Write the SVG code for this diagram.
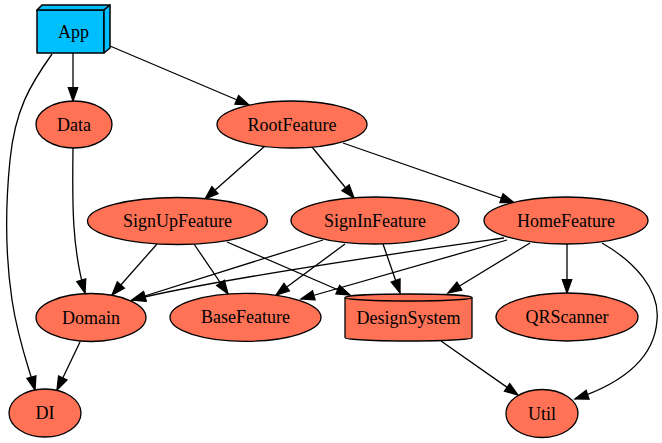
<svg xmlns="http://www.w3.org/2000/svg" width="662" height="443" viewBox="0 0 662 443">
<style>
.n{fill:#ff7256;stroke:#000;stroke-width:1.3}
.b{fill:#00bfff;stroke:#000;stroke-width:1.5;stroke-linejoin:round}
.t{font-family:"Liberation Serif","Times New Roman",serif;font-size:18px;fill:#000;text-anchor:middle}
.e{fill:none;stroke:#000;stroke-width:1.3;marker-end:url(#ah)}
</style>
<defs>
<marker id="ah" markerUnits="userSpaceOnUse" markerWidth="16" markerHeight="12" refX="13.3" refY="4.67" orient="auto" overflow="visible">
<path d="M0,0 L13.3,4.67 L0,9.33 Z" fill="#000" stroke="#000" stroke-width="1.3" stroke-linejoin="miter"/>
</marker>
</defs>
<rect width="662" height="443" fill="#fff"/>
<g id="edges">
<path class="e" d="M73,53 L73,101"/>
<path class="e" d="M110,46 L249,105"/>
<path class="e" d="M52,54 C30,85 15,110 10,160 C5,210 6,260 12,300 C18,340 28,365 35,390"/>
<path class="e" d="M73,148 C72.5,195 71,245 85,293"/>
<path class="e" d="M265,146 L205,199"/>
<path class="e" d="M312,147 L354,198"/>
<path class="e" d="M343,143 L514,202.5"/>
<path class="e" d="M157,244 L112,295"/>
<path class="e" d="M194,244 L228,294"/>
<path class="e" d="M227,242 L350,295"/>
<path class="e" d="M323,240 L132,300"/>
<path class="e" d="M345,244 L276,295"/>
<path class="e" d="M383,244 L400,293"/>
<path class="e" d="M504,238 C420,250 220,278 132,300"/>
<path class="e" d="M507,240 L301,299"/>
<path class="e" d="M530,243 L448,293"/>
<path class="e" d="M567,244 L567,293"/>
<path class="e" d="M602,243 C635,262 660,290 657,320 C655,352 632,380 575,399"/>
<path class="e" d="M441,341 L518,395"/>
<path class="e" d="M80,342 L57,390"/>
</g>
<g id="App">
<path class="b" d="M37,10 L104,10 L104,53 L37,53 Z"/>
<path class="b" d="M37,10 L42,5 L110,5 L104,10 Z"/>
<path class="b" d="M104,10 L110,5 L110,48 L104,53 Z"/>
<text class="t" x="73.5" y="37.5">App</text>
</g>
<g id="Data">
<ellipse class="n" cx="74" cy="124.5" rx="38" ry="23.5"/>
<text class="t" x="74" y="130.5">Data</text>
</g>
<g id="RootFeature">
<ellipse class="n" cx="292" cy="124.5" rx="75" ry="23.5"/>
<text class="t" x="292" y="130.5">RootFeature</text>
</g>
<g id="SignUpFeature">
<ellipse class="n" cx="177.5" cy="221" rx="90" ry="23.5"/>
<text class="t" x="177.5" y="227">SignUpFeature</text>
</g>
<g id="SignInFeature">
<ellipse class="n" cx="375" cy="220.5" rx="84" ry="23.5"/>
<text class="t" x="375" y="226.5">SignInFeature</text>
</g>
<g id="HomeFeature">
<ellipse class="n" cx="566" cy="220.5" rx="82" ry="23.5"/>
<text class="t" x="566" y="226.5">HomeFeature</text>
</g>
<g id="Domain">
<ellipse class="n" cx="91" cy="317.5" rx="55" ry="24"/>
<text class="t" x="91" y="323.5">Domain</text>
</g>
<g id="BaseFeature">
<ellipse class="n" cx="245.5" cy="317.3" rx="75.5" ry="24"/>
<text class="t" x="245.5" y="323.3">BaseFeature</text>
</g>
<g id="DesignSystem">
<path class="n" d="M345,297.5 C345,295.6 373.5,294 408.5,294 C443.5,294 472,295.6 472,297.5 L472,337.5 C472,339.4 443.5,341 408.5,341 C373.5,341 345,339.4 345,337.5 Z"/>
<path class="n" style="fill:none" d="M472,297.5 C472,299.4 443.5,301 408.5,301 C373.5,301 345,299.4 345,297.5"/>
<text class="t" x="408.5" y="323.5">DesignSystem</text>
</g>
<g id="QRScanner">
<ellipse class="n" cx="567" cy="317" rx="71" ry="24"/>
<text class="t" x="567" y="323">QRScanner</text>
</g>
<g id="DI">
<ellipse class="n" cx="45" cy="413" rx="36" ry="24"/>
<text class="t" x="45" y="419">DI</text>
</g>
<g id="Util">
<ellipse class="n" cx="542" cy="413.5" rx="36" ry="24"/>
<text class="t" x="542" y="419.5">Util</text>
</g>
</svg>
